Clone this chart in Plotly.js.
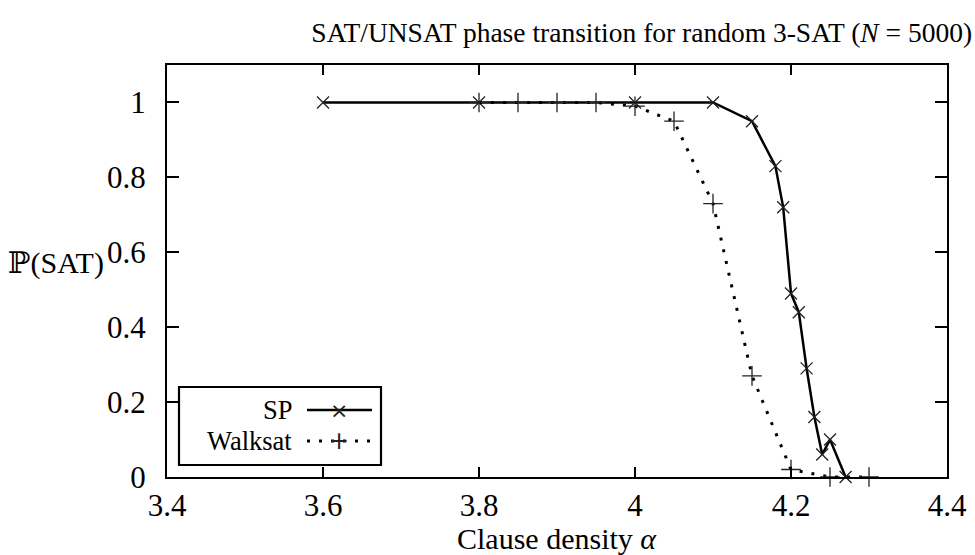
<!DOCTYPE html>
<html>
<head>
<meta charset="utf-8">
<script src="https://cdn.plot.ly/plotly-3.0.1.min.js"></script>
<style>html,body{margin:0;padding:0;background:#fff;}#chart{width:975px;height:555px;position:relative;}
#pre{position:absolute;left:0;top:0;z-index:-1;color:#fff;font-size:20px;}</style>
</head>
<body>
<div id="pre"><span style="font-family:'Liberation Serif'">Walksat 3.6</span> <span style="font-family:'DejaVu Serif'">ℙ</span> <span style="font-family:'DejaVu Sans'">×+</span></div>
<div id="chart"></div>
<script>
// ---- data ----
const spAlpha = [3.6, 3.8, 4.0, 4.1, 4.15, 4.18, 4.19, 4.2, 4.21, 4.22, 4.23, 4.24, 4.25, 4.27];
const spProb  = [1.0, 1.0, 1.0, 1.0, 0.95, 0.83, 0.72, 0.49, 0.44, 0.29, 0.16, 0.06, 0.10, 0.0];
const wsAlpha = [3.8, 3.85, 3.9, 3.95, 4.0, 4.05, 4.1, 4.15, 4.2, 4.25, 4.3];
const wsProb  = [1.0, 1.0, 1.0, 1.0, 0.99, 0.95, 0.73, 0.27, 0.02, 0.0, 0.0];
const xTickVals = [3.4, 3.6, 3.8, 4.0, 4.2, 4.4];
const xTickText = ['3.4', '3.6', '3.8', '4', '4.2', '4.4'];
const yTickVals = [0, 0.2, 0.4, 0.6, 0.8, 1];
const yTickText = ['0', '0.2', '0.4', '0.6', '0.8', '1'];
const seriesNames = ['SP', 'Walksat'];

const FONT = 'Liberation Serif';
const TICK_FS = 31;

const traces = [
  {
    x: spAlpha, y: spProb, name: seriesNames[0], type: 'scatter', mode: 'lines+markers',
    line: {color: '#000', width: 2.5},
    marker: {symbol: 'x-thin', size: 12, color: '#000', line: {color: '#222', width: 1.3}},
    showlegend: false, cliponaxis: false
  },
  {
    x: wsAlpha, y: wsProb, name: seriesNames[1], type: 'scatter', mode: 'lines+markers',
    line: {color: '#000', width: 3, dash: '3px,9px'},
    marker: {symbol: 'cross-thin', size: 14, color: '#000', line: {color: '#222', width: 1.3}},
    showlegend: false, cliponaxis: false
  }
];

// legend built from series names (text left, sample right, as in the original)
const legL = 179, legR = 381, legT = 387, legB = 465;
const W = 975, H = 555;
const ml = 167, mr = 28, mt = 65, mb = 78;
const pw = W - ml - mr, ph = H - mt - mb;
const px = v => (v - ml) / pw;
const py = v => (H - mb - v) / ph;
const rows = [410, 441];

const shapes = [
  {type: 'rect', xref: 'paper', yref: 'paper', x0: px(legL), x1: px(legR), y0: py(legB), y1: py(legT),
   line: {color: '#000', width: 2.2}, fillcolor: '#fff', layer: 'above'},
  {type: 'line', xref: 'paper', yref: 'paper', x0: px(307), x1: px(372), y0: py(rows[0]), y1: py(rows[0]),
   line: {color: '#000', width: 2.5}, layer: 'above'},
  {type: 'line', xref: 'paper', yref: 'paper', x0: px(307), x1: px(372), y0: py(rows[1]), y1: py(rows[1]),
   line: {color: '#000', width: 3, dash: '3px,9px'}, layer: 'above'}
];

const annotations = [
  {xref: 'paper', yref: 'paper', x: px(294), y: py(rows[0]), xanchor: 'right', yanchor: 'middle',
   text: seriesNames[0], showarrow: false, font: {family: FONT, size: 26.5, color: '#000'}},
  {xref: 'paper', yref: 'paper', x: px(294), y: py(rows[1]), xanchor: 'right', yanchor: 'middle',
   text: seriesNames[1], showarrow: false, font: {family: FONT, size: 26.5, color: '#000'}},
  {xref: 'paper', yref: 'paper', x: px(339), y: py(rows[0]), xanchor: 'center', yanchor: 'middle',
   text: '×', showarrow: false, font: {family: 'DejaVu Sans', size: 22, color: '#222'}},
  {xref: 'paper', yref: 'paper', x: px(339), y: py(rows[1]), xanchor: 'center', yanchor: 'middle',
   text: '+', showarrow: false, font: {family: 'DejaVu Sans', size: 24, color: '#222'}},
  // y axis title (horizontal)
  {xref: 'paper', yref: 'paper', x: px(6), y: py(262), xanchor: 'left', yanchor: 'middle',
   text: '<span style="font-family:DejaVu Serif">ℙ</span>(SAT)', showarrow: false, font: {family: FONT, size: 30, color: '#000'}},
  // x axis title
  {xref: 'paper', yref: 'paper', x: 0.5, y: py(538), xanchor: 'center', yanchor: 'middle',
   text: 'Clause density <i>α</i>', showarrow: false, font: {family: FONT, size: 30, color: '#000'}}
];

const axisCommon = {
  showgrid: false, zeroline: false, showline: true, linecolor: '#000', linewidth: 2,
  mirror: 'allticks', ticks: 'inside', tickcolor: '#000', tickwidth: 2,
  tickfont: {family: FONT, size: TICK_FS, color: '#000'}, tickmode: 'array'
};

const layout = {
  width: W, height: H,
  margin: {l: ml, r: mr, t: mt, b: mb, pad: 0},
  paper_bgcolor: '#fff', plot_bgcolor: '#fff',
  font: {family: FONT, size: TICK_FS, color: '#000'},
  title: {text: 'SAT/UNSAT phase transition for random 3-SAT (<i>N</i> = 5000)',
          x: 0.997, xanchor: 'right', xref: 'container', y: 1 - 32/555, yanchor: 'middle', yref: 'container',
          font: {family: FONT, size: 27.5, color: '#000'}},
  xaxis: Object.assign({}, axisCommon, {range: [3.4, 4.4], tickvals: xTickVals, ticktext: xTickText, ticklen: 10, ticklabelstandoff: 0}),
  yaxis: Object.assign({}, axisCommon, {range: [0, 1.1], tickvals: yTickVals, ticktext: yTickText, ticklen: 12, ticklabelstandoff: 13}),
  shapes: shapes,
  annotations: annotations,
  showlegend: false
};

Plotly.newPlot('chart', traces, layout, {displayModeBar: false});
</script>
</body>
</html>
